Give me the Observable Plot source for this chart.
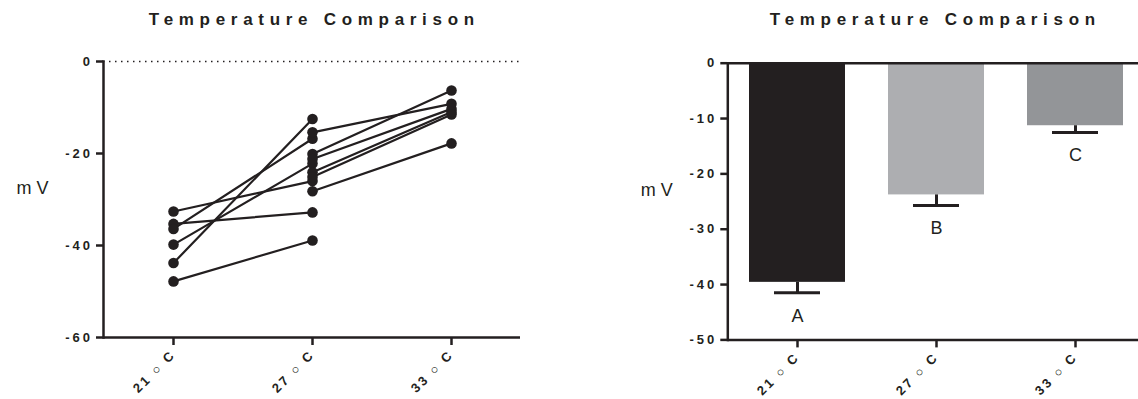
<!DOCTYPE html>
<html><head><meta charset="utf-8">
<script src="https://cdn.jsdelivr.net/npm/d3@7"></script>
<script src="https://cdn.jsdelivr.net/npm/@observablehq/plot@0.6"></script>
<style>
html,body{margin:0;padding:0;background:#fff;overflow:hidden;}
#wrap{position:relative;width:1138px;height:399px;font-family:"Liberation Sans",Arial,sans-serif;}
.title{position:absolute;top:10px;height:20px;line-height:20px;font-size:17px;font-weight:bold;letter-spacing:5.7px;text-align:center;color:#231f20;white-space:nowrap;padding-left:5.7px;box-sizing:border-box;}
.panel{position:absolute;top:40px;}
.panel svg{overflow:visible;}
g[aria-label="y-axis tick label"] text{letter-spacing:3px;font-weight:bold;font-size:13px;fill:#231f20;}
g[aria-label="x-axis tick label"] text{letter-spacing:2.5px;font-weight:bold;font-size:13px;fill:#231f20;}
</style></head>
<body>
<div id="wrap">
  <div class="title" style="left:103px;width:417px;">Temperature Comparison</div>
  <div class="title" style="left:727px;width:411px;">Temperature Comparison</div>
  <div class="panel" id="left" style="left:0px;"></div>
  <div class="panel" id="right" style="left:569px;"></div>
</div>
<script>
// ---- data ----
const temps = ["21 ○ C", "27 ○ C", "33 ○ C"];
const subjects = [1,2,3,4,5,6,7,8,9,10,11,12];
const t21 = [-32.6, -35.3, -36.4, -39.8, -43.8, -47.8, null, null, null, null, null, null];
const t27 = [-26.0, -32.8, -16.8, -22.2, -12.5, -38.9, -15.4, -20.1, -21.2, -24.1, -25.1, -28.2];
const t33 = [null, null, null, null, null, null, -9.2, -6.3, -10.3, -11.0, -11.5, -17.8];
const yTicksLeft = [-60, -40, -20, 0];

const barMeans = [-39.6, -23.8, -11.3];
const barSEM = [1.9, 1.9, 1.2];
const barLetters = ["A", "B", "C"];
const barColors = ["#231f20", "#adaeb1", "#939598"];
const yTicksRight = [-50, -40, -30, -20, -10, 0];

const yLabel = "m V";
const ink = "#231f20";
const font = "Liberation Sans, Arial, sans-serif";

// ---- build tables ----
const pts = [];
subjects.forEach((id, i) => {
  [t21, t27, t33].forEach((arr, j) => {
    if (arr[i] != null) pts.push({id, temp: temps[j], mV: arr[i]});
  });
});
const bars = temps.map((t, i) => ({temp: t, mean: barMeans[i], sem: barSEM[i], letter: barLetters[i], color: barColors[i]}));

const left = Plot.plot({
  width: 569, height: 359,
  marginLeft: 103, marginRight: 49, marginTop: 21, marginBottom: 62,
  style: {fontFamily: font, color: ink, background: "transparent", overflow: "visible"},
  x: {type: "point", domain: temps, padding: 0.5},
  y: {domain: [-60, 0]},
  marks: [
    Plot.ruleY([0], {stroke: ink, strokeWidth: 1.6, strokeDasharray: "1.5,4.5"}),
    Plot.ruleY([-60], {stroke: ink, strokeWidth: 2.5}),
    Plot.frame({anchor: "left", stroke: ink, strokeWidth: 2.5}),
    Plot.axisY({ticks: yTicksLeft, tickSize: 7, tickPadding: 3.5, fontSize: 13, fontWeight: "bold", strokeWidth: 2.5, tickFormat: d => String(d), label: null}),
    Plot.axisX({tickSize: 8, tickRotate: -45, tickPadding: 7, fontSize: 13, fontWeight: "bold", strokeWidth: 2.5, label: null}),
    Plot.line(pts, {x: "temp", y: "mV", z: "id", stroke: ink, strokeWidth: 2.2}),
    Plot.dot(pts, {x: "temp", y: "mV", r: 5.3, fill: ink}),
    Plot.text([yLabel], {frameAnchor: "left", dx: -55, dy: -11, textAnchor: "end", fontSize: 18, fill: ink})
  ]
});
document.getElementById("left").appendChild(left);

const right = Plot.plot({
  width: 569, height: 359,
  marginLeft: 158.3, marginRight: 0, marginTop: 22.7, marginBottom: 59.6,
  style: {fontFamily: font, color: ink, background: "transparent", overflow: "visible"},
  x: {type: "band", domain: temps, range: [158.5, 575.5], paddingInner: 0.31, paddingOuter: 0.155},
  y: {domain: [-50, 0]},
  color: {type: "identity"},
  marks: [
    Plot.barY(bars, {x: "temp", y: "mean", fill: "color"}),
    Plot.ruleX(bars, {x: "temp", y1: "mean", y2: d => d.mean - d.sem, stroke: ink, strokeWidth: 3}),
    Plot.tickY(bars, {x: "temp", y: d => d.mean - d.sem, stroke: ink, strokeWidth: 3, insetLeft: 25, insetRight: 25}),
    Plot.text(bars, {x: "temp", y: d => d.mean - d.sem, text: "letter", dy: 23, fontSize: 18, fill: ink}),
    Plot.ruleY([0], {stroke: ink, strokeWidth: 2.5}),
    Plot.ruleY([-50], {stroke: ink, strokeWidth: 2.5}),
    Plot.frame({anchor: "left", stroke: ink, strokeWidth: 2.5}),
    Plot.axisY({ticks: yTicksRight, tickSize: 7, tickPadding: 3.5, fontSize: 13, fontWeight: "bold", strokeWidth: 2.5, tickFormat: d => String(d), label: null}),
    Plot.axisX({tickSize: 8, tickRotate: -45, tickPadding: 7, fontSize: 13, fontWeight: "bold", strokeWidth: 2.5, label: null}),
    Plot.text([yLabel], {frameAnchor: "left", dx: -55, dy: -11, textAnchor: "end", fontSize: 18, fill: ink})
  ]
});
document.getElementById("right").appendChild(right);
</script>
</body></html>
